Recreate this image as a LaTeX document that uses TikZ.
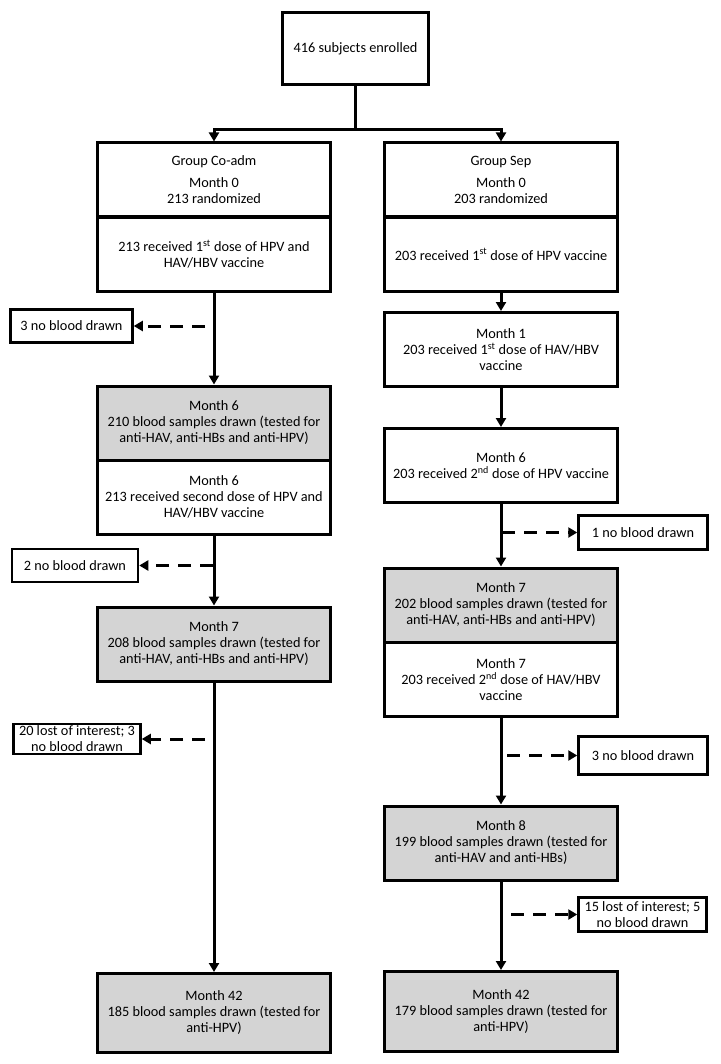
\documentclass[tikz,border=0pt]{standalone}
\usepackage{fontspec}
\setmainfont{Carlito}
\usetikzlibrary{arrows.meta}
\definecolor{samplegrey}{RGB}{212,212,212}
\tikzset{
  box/.style={draw, line width=3pt, minimum width=233pt, minimum height=74pt, align=center, inner sep=2pt, font=\fontsize{14.3}{16}\selectfont},
  greybox/.style={box, fill=samplegrey},
  sidebox/.style={draw, line width=2.5pt, minimum width=126pt, minimum height=33pt, align=center, inner sep=1pt, font=\fontsize{14.3}{16}\selectfont},
  conn/.style={line width=3pt},
  arrow/.style={conn, -{Triangle[length=9pt,width=10pt]}},
  dasharrow/.style={arrow, dash pattern=on 13pt off 9pt}
}
\begin{document}
\begin{tikzpicture}[x=1pt, y=-1pt]
    \useasboundingbox[fill=white] (0,0) rectangle (720,1064);
    % enrolment and randomisation
    \node[box, minimum width=146pt, minimum height=72pt] (enrol) at (355.5, 48.5) {416 subjects enrolled};
    \coordinate (split) at (355.5, 130);
    \node[box] (Lgroup) at (214, 180) {Group Co-adm\\[6pt]Month 0\\213 randomized};
    \node[box] (Lrec) at (214, 254.5) {213 received 1\textsuperscript{st} dose of HPV and\\HAV/HBV vaccine};
    \node[box] (Rgroup) at (501, 180) {Group Sep\\[6pt]Month 0\\203 randomized};
    \node[box] (Rrec) at (501, 254.5) {203 received 1\textsuperscript{st} dose of HPV vaccine};
    \draw[conn] (enrol) -- (split);
    \draw[arrow] (split) -| (Lgroup);
    \draw[arrow] (split) -| (Rgroup);
    % group Co-adm
    \node[greybox] (Lm6b) at (214, 423) {Month 6\\210 blood samples drawn (tested for\\anti-HAV, anti-HBs and anti-HPV)};
    \node[box] (Lm6d) at (214, 497) {Month 6\\213 received second dose of HPV and\\HAV/HBV vaccine};
    \node[greybox] (Lm7b) at (214, 644) {Month 7\\208 blood samples drawn (tested for\\anti-HAV, anti-HBs and anti-HPV)};
    \node[greybox, minimum height=79pt] (Lm42) at (214, 1013) {Month 42\\185 blood samples drawn (tested for\\anti-HPV)};
    \node[sidebox, minimum width=122pt] (Lout1) at (71.5, 326) {3 no blood drawn};
    \node[sidebox] (Lout2) at (75, 565.5) {2 no blood drawn};
    \node[sidebox, minimum width=127pt, minimum height=30pt] (Lout3) at (77, 739) {20 lost of interest; 3\\no blood drawn};
    \draw[arrow] (Lrec) -- (Lm6b);
    \draw[arrow] (Lm6d) -- (Lm7b);
    \draw[arrow] (Lm7b) -- (Lm42);
    \coordinate (Lbr1) at (205, 326);
    \coordinate (Lbr2) at (213, 565.5);
    \coordinate (Lbr3) at (205, 739);
    \draw[dasharrow] (Lbr1) -- (Lout1);
    \draw[dasharrow] (Lbr2) -- (Lout2);
    \draw[dasharrow] (Lbr3) -- (Lout3);
    % group Sep
    \node[box] (Rm1) at (501, 349.5) {Month 1\\203 received 1\textsuperscript{st} dose of HAV/HBV\\vaccine};
    \node[box] (Rm6) at (501, 465.5) {Month 6\\203 received 2\textsuperscript{nd} dose of HPV vaccine};
    \node[greybox] (Rm7b) at (501, 605) {Month 7\\202 blood samples drawn (tested for\\anti-HAV, anti-HBs and anti-HPV)};
    \node[box] (Rm7d) at (501, 679.5) {Month 7\\203 received 2\textsuperscript{nd} dose of HAV/HBV\\vaccine};
    \node[greybox] (Rm8) at (501, 843) {Month 8\\199 blood samples drawn (tested for\\anti-HAV and anti-HBs)};
    \node[greybox, minimum height=80pt] (Rm42) at (501, 1011.5) {Month 42\\179 blood samples drawn (tested for\\anti-HPV)};
    \node[sidebox, minimum width=129pt, minimum height=34pt] (Rout1) at (643, 532.5) {1 no blood drawn};
    \node[sidebox, minimum width=129pt, minimum height=38pt] (Rout2) at (643, 755.5) {3 no blood drawn};
    \node[sidebox, minimum width=128pt, minimum height=34pt] (Rout3) at (642.5, 914.5) {15 lost of interest; 5\\no blood drawn};
    \draw[arrow] (Rrec) -- (Rm1);
    \draw[arrow] (Rm1) -- (Rm6);
    \draw[arrow] (Rm6) -- (Rm7b);
    \draw[arrow] (Rm7d) -- (Rm8);
    \draw[arrow] (Rm8) -- (Rm42);
    \coordinate (Rbr1) at (502, 532.5);
    \coordinate (Rbr2) at (507, 755.5);
    \coordinate (Rbr3) at (511, 914.5);
    \draw[dasharrow] (Rbr1) -- (Rout1);
    \draw[dasharrow] (Rbr2) -- (Rout2);
    \draw[dasharrow] (Rbr3) -- (Rout3);
\end{tikzpicture}
\end{document}
